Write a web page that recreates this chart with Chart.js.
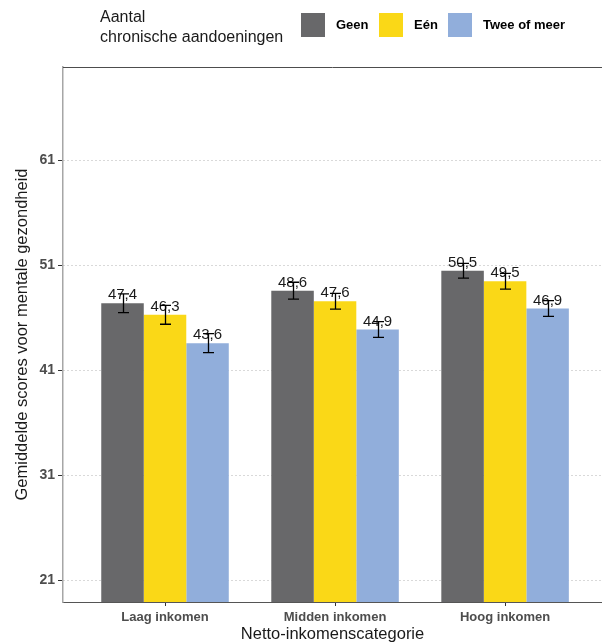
<!DOCTYPE html>
<html>
<head>
<meta charset="utf-8">
<script src="https://cdn.jsdelivr.net/npm/chart.js@4.4.0/dist/chart.umd.min.js"></script>
<style>
  html, body { margin: 0; padding: 0; background: #fff; }
</style>
</head>
<body>
<canvas id="chart" width="602" height="643"></canvas>
<script>
// data
var categories = ['Laag inkomen', 'Midden inkomen', 'Hoog inkomen'];
var seriesNames = ['Geen', 'Eén', 'Twee of meer'];
var geen = [47.4, 48.6, 50.5];
var een = [46.3, 47.6, 49.5];
var tweeOfMeer = [43.6, 44.9, 46.9];
var geenErr = [0.9, 0.8, 0.7];
var eenErr = [0.9, 0.75, 0.75];
var tweeErr = [0.9, 0.75, 0.75];
var yTicks = [21, 31, 41, 51, 61];
var yMin = 18.95, yMax = 69.9;

var colors = ['#68686a', '#fad817', '#91aedb'];
var FONT = "'Liberation Sans', Arial, sans-serif";

function points(vals) {
    return vals.map(function (v, i) { return { x: i + 1, y: v }; });
}

function fmt(v) {
    return v.toFixed(1).replace('.', ',');
}

//--- error bars, value labels, panel top line and legend ---
var extras = {
    id: 'extras',
    beforeDraw: function (chart) {
        var ctx = chart.ctx;
        ctx.save();
        ctx.fillStyle = '#fff';
        ctx.fillRect(0, 0, chart.width, chart.height);
        ctx.restore();
    },
    afterDatasetsDraw: function (chart) {
        var ctx = chart.ctx;
        var ys = chart.scales.y;
        var a = chart.chartArea;

        chart.data.datasets.forEach(function (ds, di) {
            var meta = chart.getDatasetMeta(di);
            meta.data.forEach(function (bar, i) {
                var v = ds.data[i].y;
                var e = ds.errors[i];
                var x = Math.round(bar.x) + 0.5;
                var top = ys.getPixelForValue(v);

                ctx.save();
                ctx.font = '15px ' + FONT;
                ctx.fillStyle = '#1a1a1a';
                ctx.textAlign = 'center';
                ctx.textBaseline = 'middle';
                ctx.fillText(fmt(v), bar.x, top - 8);

                var hi = ys.getPixelForValue(v + e);
                var lo = ys.getPixelForValue(v - e);
                ctx.strokeStyle = '#000';
                ctx.lineWidth = 1.3;
                ctx.beginPath();
                ctx.moveTo(x, hi); ctx.lineTo(x, lo);
                ctx.moveTo(x - 5.5, hi); ctx.lineTo(x + 5.5, hi);
                ctx.moveTo(x - 5.5, lo); ctx.lineTo(x + 5.5, lo);
                ctx.stroke();
                ctx.restore();
            });
        });

        // top edge of the panel
        ctx.save();
        ctx.strokeStyle = '#4d4d4d';
        ctx.lineWidth = 1;
        ctx.beginPath();
        ctx.moveTo(a.left, Math.round(a.top) + 0.5);
        ctx.lineTo(a.right, Math.round(a.top) + 0.5);
        ctx.stroke();

        // legend
        ctx.fillStyle = '#1a1a1a';
        ctx.textBaseline = 'middle';
        ctx.textAlign = 'left';
        ctx.font = '16px ' + FONT;
        ctx.fillText('Aantal', 100, 18);
        ctx.fillText('chronische aandoeningen', 100, 38);

        var keyX = [301, 379, 448];
        ctx.font = 'bold 13px ' + FONT;
        chart.data.datasets.forEach(function (ds, di) {
            ctx.fillStyle = ds.backgroundColor;
            ctx.fillRect(keyX[di], 13, 24, 24);
            ctx.fillStyle = '#000';
            ctx.fillText(ds.label, keyX[di] + 35, 25);
        });
        ctx.restore();
    }
};

var ctx = document.getElementById('chart').getContext('2d');
new Chart(ctx, {
    type: 'bar',
    data: {
        datasets: [
            { label: seriesNames[0], data: points(geen), errors: geenErr, backgroundColor: colors[0] },
            { label: seriesNames[1], data: points(een), errors: eenErr, backgroundColor: colors[1] },
            { label: seriesNames[2], data: points(tweeOfMeer), errors: tweeErr, backgroundColor: colors[2] }
        ]
    },
    options: {
        responsive: false,
        animation: false,
        devicePixelRatio: 1,
        datasets: {
            bar: {
                categoryPercentage: 0.75,
                barPercentage: 1,
                base: yMin,
                borderWidth: 0
            }
        },
        layout: { padding: { top: 67, right: 0, bottom: 0, left: 0 } },
        plugins: {
            legend: { display: false },
            tooltip: { enabled: false }
        },
        scales: {
            x: {
                type: 'linear',
                min: 0.4,
                max: 3.57,
                offset: false,
                afterBuildTicks: function (scale) {
                    scale.ticks = categories.map(function (c, i) { return { value: i + 1 }; });
                },
                afterFit: function (scale) { scale.height = 41; },
                ticks: {
                    callback: function (value) { return categories[value - 1]; },
                    autoSkip: false,
                    maxRotation: 0,
                    padding: 4,
                    color: '#4d4d4d',
                    font: { family: FONT, size: 13, weight: 'bold' }
                },
                grid: {
                    offset: false,
                    drawOnChartArea: false,
                    tickLength: 4,
                    tickColor: '#333'
                },
                border: { color: '#555', width: 1 },
                title: {
                    display: true,
                    text: 'Netto-inkomenscategorie',
                    color: '#1a1a1a',
                    padding: { top: 0, bottom: -1 },
                    font: { family: FONT, size: 16.5 }
                }
            },
            y: {
                min: yMin,
                max: yMax,
                afterBuildTicks: function (scale) {
                    scale.ticks = yTicks.map(function (t) { return { value: t }; });
                },
                afterFit: function (scale) { scale.width = 63; },
                ticks: {
                    padding: 3,
                    color: '#4d4d4d',
                    font: { family: FONT, size: 14, weight: 'bold' }
                },
                grid: {
                    color: '#b3b3b3',
                    lineWidth: 1,
                    tickLength: 5,
                    tickColor: '#333',
                    tickBorderDash: []
                },
                border: { color: '#a6a6a6', width: 1.5, dash: [1, 3] },
                title: {
                    display: true,
                    text: 'Gemiddelde scores voor mentale gezondheid',
                    color: '#1a1a1a',
                    padding: { top: 13, bottom: 0 },
                    font: { family: FONT, size: 16.5 }
                }
            }
        }
    },
    plugins: [extras]
});
</script>
</body>
</html>
